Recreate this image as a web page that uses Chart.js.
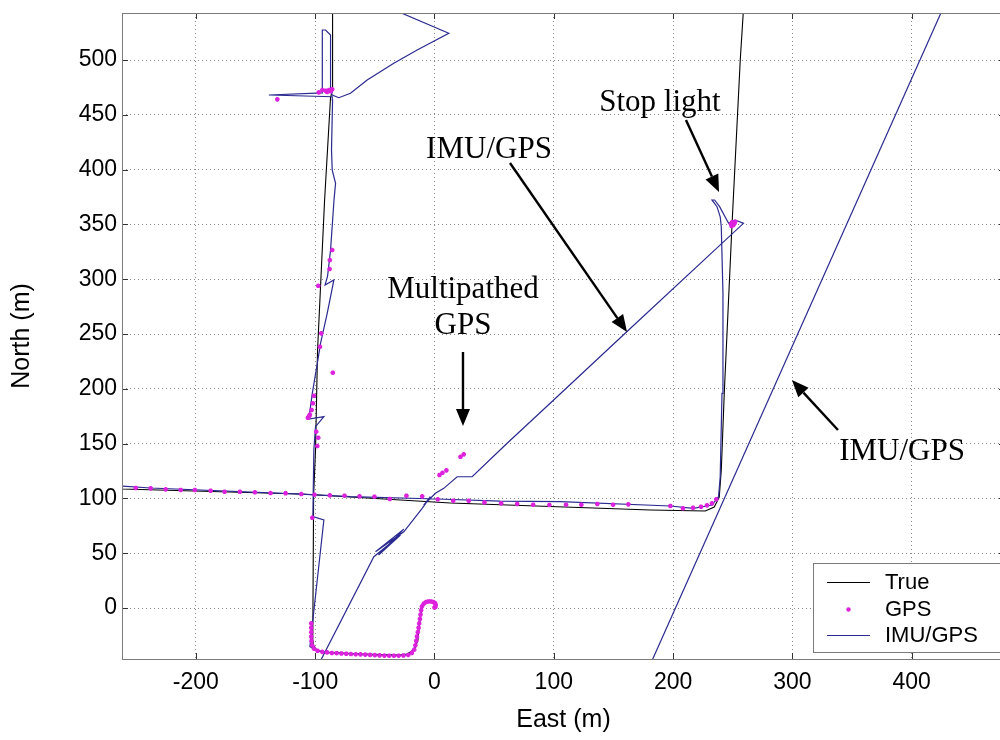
<!DOCTYPE html>
<html>
<head>
<meta charset="utf-8">
<title>IMU/GPS track</title>
<script src="https://cdn.jsdelivr.net/npm/chart.js@4.4.1/dist/chart.umd.min.js"></script>
<style>
  html, body { margin: 0; padding: 0; background: #fff; overflow: hidden; }
  #wrap { width: 1012px; height: 740px; }
</style>
</head>
<body>
<div id="wrap"><canvas id="track" width="1012" height="740"></canvas></div>
<script>
// tick labels
const xTicks = [-200, -100, 0, 100, 200, 300, 400];
const yTicks = [0, 50, 100, 150, 200, 250, 300, 350, 400, 450, 500];

// True trajectory, [east, north] in m (two pieces, it leaves the view at the top)
const trueWest = [
  [1, 3], [-1, 5], [-5, 5.5], [-9, 3], [-11, -2], [-12.5, -15], [-14, -30], [-17, -38], [-23, -42],
  [-30, -43], [-60, -42], [-90, -40.5], [-98, -39], [-101.5, -34], [-102, -29], [-101.3, 103],
  [-99.7, 144], [-98, 235], [-92.1, 372], [-87.1, 466], [-85.4, 472.6], [-85.4, 550]
];
const trueEast = [
  [-270, 109.3], [-261.3, 108.6], [-112.2, 104], [13.4, 95.8], [180.9, 89.4], [227, 88.5],
  [234.5, 92.2], [238.7, 101.3], [240.4, 125.9], [242.9, 196.2], [249.3, 347.6], [256.3, 500],
  [258.8, 543], [259.2, 550]
];

// GPS fixes
const gpsRoad = [
  [-250.4, 109.5], [-237.9, 109.2], [-225.3, 108.3], [-212.7, 107.7], [-200.8, 107.7], [-187.6, 107],
  [-175.9, 106.1], [-163.1, 106.1], [-150.5, 105.6], [-137.4, 104.9], [-124.8, 104.7], [-111.6, 104],
  [-100.5, 103.4], [-87.7, 102.8], [-75.4, 102.5], [-62.8, 101.9], [-50.3, 101.6], [-37.4, 99.5],
  [-23.5, 102.5], [-10.3, 101.9], [2.8, 99.2], [15.7, 97.9], [28.7, 97.9], [41.9, 96.4], [55.9, 95.5],
  [69.3, 94.9], [82.7, 94.3], [96.3, 94], [110.3, 94.3], [123.1, 94.3], [136.5, 94.9], [149.7, 94.3],
  [162.5, 94.6], [197.7, 93.1], [208.3, 91], [216.7, 91.5], [223.4, 92.4], [228.4, 93.7], [232.6, 95.5],
  [236.2, 99.2]
];
const gpsStopLight = [[248.5, 350.5], [249.5, 352], [250.5, 349.5], [251.5, 351], [249, 348.5], [252, 352.5]];
const gpsMultipath = [[4.2, 121.4], [6.7, 123.4], [10, 125.6], [21.8, 138], [24.5, 140.2]];
const gpsWest = [
  [-85.7, 326.6], [-87.7, 317.5], [-87.9, 309.3], [-97.4, 294], [-94.9, 250.6], [-96, 238.4],
  [-85.2, 214.7], [-101.1, 193.7], [-101.9, 186.8], [-103, 180.7], [-104.9, 175.2], [-106.1, 173.6],
  [-104.5, 176.5], [-99.1, 160.9], [-97.4, 155.4], [-98.2, 147.8], [-102.4, 82.4],
  [-94, 472.6], [-91.3, 472], [-88.5, 472.6], [-85.7, 473.3], [-90, 470.8], [-87, 471.5], [-97, 470.5],
  [-131.7, 464.1]
];
const gpsStart = [
  [-103.3, -14], [-103.3, -18], [-103.3, -22], [-103.3, -26], [-103.1, -30], [-102.5, -34], [-101, -37],
  [-98, -39], [-94, -40], [-90, -40.5], [-86, -41], [-82, -41.2], [-78, -41.5], [-74, -41.7], [-70, -42],
  [-66, -42.2], [-62, -42.3], [-58, -42.5], [-54, -42.7], [-50, -43], [-46, -43.2], [-42, -43.4],
  [-38, -43.5], [-34, -43.5], [-30, -43.5], [-26, -43.3], [-22, -42.8], [-19, -41], [-17, -38],
  [-16, -34], [-15.3, -30], [-14.7, -26], [-14, -22], [-13.3, -18], [-12.8, -14], [-12.2, -10],
  [-11.7, -6], [-11.2, -2], [-10.5, 1.5], [-9, 4], [-7, 5.5], [-5, 6], [-3, 6], [-1, 5.5], [0.5, 4.5],
  [1, 3], [0.8, 1.2], [0, 0.5]
];

// IMU/GPS solution (pieces)
const imuWest = [
  [0.8, 2], [-1, 5.5], [-5, 6], [-9, 4], [-11, 0], [-12.5, -12], [-14.5, -27], [-17, -37], [-22, -42.5],
  [-30, -43.5], [-60, -42.5], [-90, -40.5], [-99, -38.5], [-104.4, -35.3], [-92.7, 80.3], [-101.9, 83.4],
  [-101.1, 144.2], [-99.7, 165.5], [-92.7, 174.6], [-105.3, 172.4], [-102.4, 195.9], [-98.2, 223.3],
  [-95.5, 241.5], [-89.9, 268.9], [-84.3, 299.3], [-91.7, 294.7], [-89.6, 302.9], [-87.1, 326.6],
  [-84.2, 372.3], [-82.9, 387.5], [-85.7, 399.6], [-86.3, 417.9], [-85.4, 463.5], [-85.7, 466.5],
  [-138.8, 468.1], [-94, 470], [-94, 527.4], [-91.3, 527.4], [-87.1, 522.8], [-87.1, 472.6],
  [-85.7, 468], [-80.2, 465.6], [-70.4, 469.6], [-56.4, 481.8], [-34.1, 497], [-14.5, 509.1],
  [12, 524.4], [-43, 550]
];
const imuRoad = [
  [-270, 112], [-261.3, 111.3], [-237.9, 109.5], [-111.6, 104], [-70.4, 101.6], [2.5, 99.5],
  [55, 97.5], [105.5, 97], [197.7, 93.1], [216.9, 91], [232.6, 94], [238.1, 101.6], [239.5, 119.8],
  [241, 195.9], [241.8, 287.1], [240.4, 347.9], [239.5, 357], [236.8, 366.2], [232.6, 372.3],
  [234.8, 372.3], [239, 366.2], [246.5, 351], [252.1, 354], [259, 351], [161.4, 252.3], [99.9, 189.8],
  [60.9, 150.3], [31.6, 119.8], [19, 119.8], [7.8, 109.2], [0.8, 104.7], [-9, 94], [-3.4, 101.6],
  [-10.3, 91], [-25.7, 69.6], [-49.4, 51.4], [-25.7, 72], [-46.9, 48.4], [-28.5, 66.6], [-50.8, 46.8],
  [-95.5, -48.1], [-97, -52]
];
const imuEast = [[177.4, -60], [431.5, 560]];

const TRUE_C = '#000000', GPS_C = '#dd22dd', IMU_C = '#2a2a90';

// callouts, positioned in data units
const notes = [
  { text: 'Stop light', at: [189, 460.8], from: [210.8, 445.3], to: [238.5, 379.6] },
  { text: 'IMU/GPS', at: [45.7, 417.9], from: [63.3, 406], to: [161.4, 251.8] },
  { text: 'Multipathed', at: [23.9, 290.1] },
  { text: 'GPS', at: [23.9, 257.3], from: [23.9, 233.6], to: [23.9, 166.1] },
  { text: 'IMU/GPS', at: [391.9, 142.3], from: [338.2, 162.4], to: [299.6, 208] }
];

const pts = arr => arr.map(p => ({ x: p[0], y: p[1] }));

function lineSet(label, arr, color, width, order) {
  return { label, data: pts(arr), showLine: true, borderColor: color, backgroundColor: color,
    borderWidth: width, pointRadius: 0, order };
}
function gpsSet(arr) {
  return { label: 'GPS', data: pts(arr), showLine: false, pointStyle: 'star', pointRadius: 2.3,
    borderWidth: 1.5, borderColor: GPS_C, backgroundColor: GPS_C, order: 1 };
}

function arrow(ctx, x0, y0, x1, y1) {
  const a = Math.atan2(y1 - y0, x1 - x0), L = 17, W = 7;
  const bx = x1 - L * Math.cos(a), by = y1 - L * Math.sin(a);
  ctx.beginPath(); ctx.moveTo(x0, y0); ctx.lineTo(bx, by); ctx.stroke();
  ctx.beginPath();
  ctx.moveTo(x1, y1);
  ctx.lineTo(bx + W * Math.sin(a), by - W * Math.cos(a));
  ctx.lineTo(bx - W * Math.sin(a), by + W * Math.cos(a));
  ctx.closePath(); ctx.fill();
}

const frame = {
  id: 'frame',
  afterDraw(chart) {
    const { ctx, chartArea: a, scales: { x, y } } = chart;
    ctx.save();
    // inside tick marks
    ctx.strokeStyle = '#333'; ctx.lineWidth = 1;
    ctx.beginPath();
    xTicks.forEach(v => {
      const px = Math.round(x.getPixelForValue(v)) + 0.5;
      ctx.moveTo(px, a.bottom); ctx.lineTo(px, a.bottom - 6);
      ctx.moveTo(px, a.top); ctx.lineTo(px, a.top + 6);
    });
    yTicks.forEach(v => {
      const py = Math.round(y.getPixelForValue(v)) + 0.5;
      ctx.moveTo(a.left, py); ctx.lineTo(a.left + 6, py);
      ctx.moveTo(a.right, py); ctx.lineTo(a.right - 6, py);
    });
    ctx.stroke();
    ctx.strokeStyle = '#7a7a7a';
    ctx.strokeRect(Math.round(a.left) + 0.5, Math.round(a.top) + 0.5, a.right - a.left, a.bottom - a.top);

    // callouts
    ctx.fillStyle = '#000'; ctx.strokeStyle = '#000'; ctx.lineWidth = 2.4;
    ctx.font = '31px "Liberation Serif", "Times New Roman", serif';
    ctx.textAlign = 'center'; ctx.textBaseline = 'middle';
    notes.forEach(n => {
      ctx.fillText(n.text, x.getPixelForValue(n.at[0]), y.getPixelForValue(n.at[1]));
      if (n.from) arrow(ctx, x.getPixelForValue(n.from[0]), y.getPixelForValue(n.from[1]),
        x.getPixelForValue(n.to[0]), y.getPixelForValue(n.to[1]));
    });

    // legend box
    const bx = Math.round(a.right - 192), by = Math.round(a.bottom - 96), bw = 192, bh = 89;
    ctx.fillStyle = '#fff'; ctx.fillRect(bx, by, bw, bh);
    ctx.strokeStyle = '#7a7a7a'; ctx.lineWidth = 1;
    ctx.strokeRect(bx + 0.5, by + 0.5, bw, bh);
    const rows = [['True', TRUE_C, 'line'], ['GPS', GPS_C, 'dot'], ['IMU/GPS', IMU_C, 'line']];
    ctx.font = '22px "Liberation Sans", Arial, sans-serif';
    ctx.textAlign = 'left';
    rows.forEach((r, i) => {
      const ry = Math.round(by + 19 + i * 26.5);
      if (r[2] === 'line') {
        ctx.strokeStyle = r[1]; ctx.lineWidth = 1;
        ctx.beginPath(); ctx.moveTo(bx + 14, ry + 0.5); ctx.lineTo(bx + 57, ry + 0.5); ctx.stroke();
      } else {
        ctx.fillStyle = r[1];
        ctx.beginPath(); ctx.arc(bx + 35.5, ry + 0.5, 2.2, 0, Math.PI * 2); ctx.fill();
      }
      ctx.fillStyle = '#000';
      ctx.fillText(r[0], bx + 72, ry + 1);
    });
    ctx.restore();
  }
};

Chart.defaults.font.family = '"Liberation Sans", Arial, sans-serif';
Chart.defaults.color = '#000';

function noPad(s) { s.paddingTop = 0; s.paddingBottom = 0; s.paddingLeft = 0; s.paddingRight = 0; }

new Chart(document.getElementById('track'), {
  type: 'scatter',
  data: {
    datasets: [
      lineSet('True', trueWest, TRUE_C, 1.1, 3),
      lineSet('True', trueEast, TRUE_C, 1.1, 3),
      lineSet('IMU/GPS', imuWest, IMU_C, 1.2, 2),
      lineSet('IMU/GPS', imuRoad, IMU_C, 1.2, 2),
      lineSet('IMU/GPS', imuEast, IMU_C, 1.2, 2),
      gpsSet(gpsRoad), gpsSet(gpsStopLight), gpsSet(gpsMultipath), gpsSet(gpsWest), gpsSet(gpsStart)
    ]
  },
  options: {
    responsive: false,
    animation: false,
    layout: { padding: { top: 13, right: 7, left: 0, bottom: 0 } },
    plugins: { legend: { display: false }, tooltip: { enabled: false } },
    scales: {
      x: {
        type: 'linear', min: -261.9, max: 478.2,
        afterBuildTicks: s => { s.ticks = xTicks.map(v => ({ value: v })); },
        afterFit: s => { s.height = 81; noPad(s); },
        grid: { color: '#8a8a8a', lineWidth: 1, drawTicks: false },
        border: { display: false, dash: [1, 3] },
        ticks: { font: { size: 23 }, padding: 10, maxRotation: 0 },
        title: { display: true, text: 'East (m)', font: { size: 25 }, padding: { top: 0, bottom: 5 } }
      },
      y: {
        type: 'linear', min: -46.5, max: 542.9,
        afterBuildTicks: s => { s.ticks = yTicks.map(v => ({ value: v })); },
        afterFit: s => { s.width = 122; noPad(s); },
        grid: { color: '#8a8a8a', lineWidth: 1, drawTicks: false },
        border: { display: false, dash: [1, 3] },
        ticks: { font: { size: 23 }, padding: 5 },
        title: { display: true, text: 'North (m)', font: { size: 25 }, padding: { top: 7, bottom: 0 } }
      }
    }
  },
  plugins: [frame]
});
</script>
</body>
</html>
